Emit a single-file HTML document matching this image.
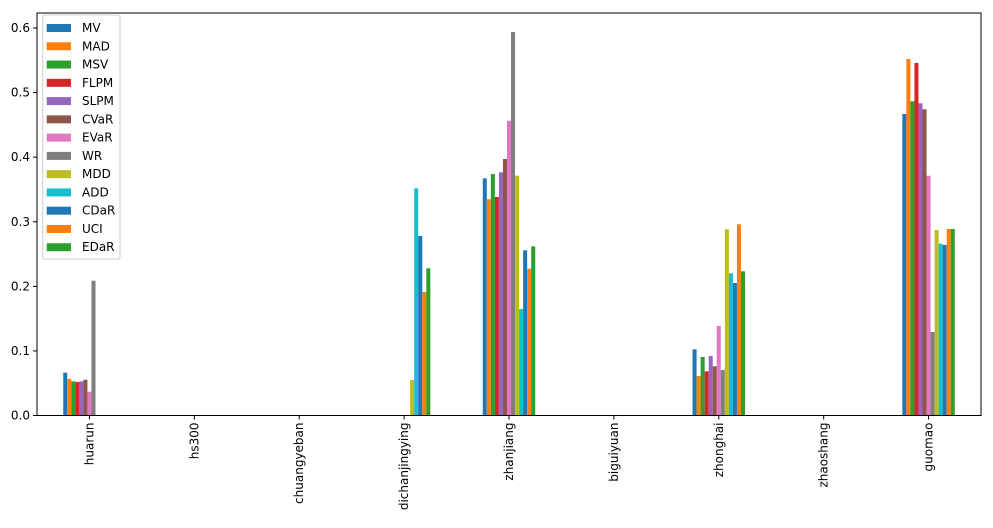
<!DOCTYPE html>
<html><head><meta charset="utf-8"><style>
body{margin:0;background:#fff;}
svg text{font-family:"DejaVu Sans","Liberation Sans",sans-serif;font-size:12px;fill:#000;}
</style></head><body>
<svg id="s" width="993" height="523" xmlns="http://www.w3.org/2000/svg"></svg>
<script>
const colors=["#1f77b4","#ff7f0e","#2ca02c","#d62728","#9467bd","#8c564b","#e377c2","#7f7f7f","#bcbd22","#17becf","#1f77b4","#ff7f0e","#2ca02c"];
const names=["MV","MAD","MSV","FLPM","SLPM","CVaR","EVaR","WR","MDD","ADD","CDaR","UCI","EDaR"];
const cats=["huarun","hs300","chuangyeban","dichanjingying","zhanjiang","biguiyuan","zhonghai","zhaoshang","guomao"];
const B=415.5;
const tops={
0:[372.7,379,381.3,382,381.3,379.7,391.7,280.7,B,B,B,B,B],
3:[B,B,B,B,B,B,B,B,380,188.3,236,292,268.3],
4:[178.3,199.3,174,197,172.3,159,120.7,32,175.7,309,250.3,268.7,246.3],
6:[349.3,376,357,371.3,356,366.3,326,370,229.3,273.3,283,224.3,271.3],
8:[114,59,101.3,63,103.3,109.3,175.7,332,230,243.7,245,229,229]};
const L=37,R=981,T=13;
const w=(R-L)/9,bw=w*0.5/13;
let h='';
for(const k in tops){const cx=L+w*(+k+0.5);tops[k].forEach((t,j)=>{if(t<B)h+=`<rect x="${cx-w*0.25+j*bw}" y="${t}" width="${bw}" height="${B-t}" fill="${colors[j]}"/>`;});}
h+=`<rect x="${L}" y="${T}" width="${R-L}" height="${B-T}" fill="none" stroke="#000" stroke-width="1"/>`;
for(let i=0;i<=6;i++){const y=B-i*0.1*645.8;h+=`<line x1="${L-4}" x2="${L}" y1="${y}" y2="${y}" stroke="#000"/><text x="${L-7}" y="${y+4}" text-anchor="end">${(i/10).toFixed(1)}</text>`;}
cats.forEach((c,i)=>{const cx=L+w*(i+0.5);h+=`<line x1="${cx}" x2="${cx}" y1="${B}" y2="${B+4}" stroke="#000"/><text transform="translate(${cx+4},${B+7}) rotate(-90)" text-anchor="end">${c}</text>`;});
h+=`<rect x="42.7" y="15" width="77.3" height="244" rx="2" fill="#fff" fill-opacity="0.8" stroke="#ccc"/>`;
names.forEach((n,j)=>{const y=28+j*18.27;h+=`<rect x="46.7" y="${y-4}" width="24.3" height="8" fill="${colors[j]}"/><text x="82" y="${y+4}">${n}</text>`;});
document.getElementById('s').innerHTML=h;
</script>
</body></html>
